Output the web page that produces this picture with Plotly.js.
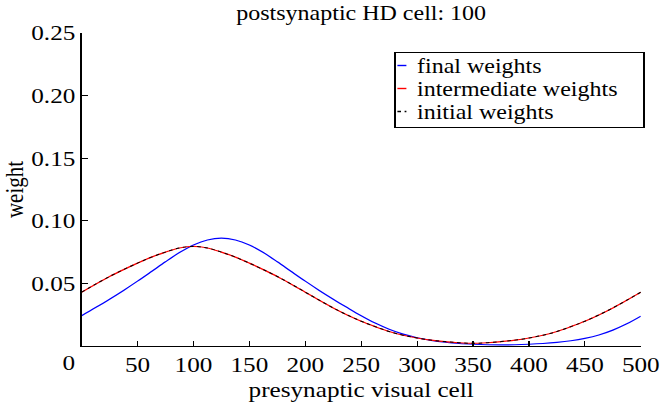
<!DOCTYPE html>
<html>
<head>
<meta charset="utf-8">
<script src="https://cdn.plot.ly/plotly-3.0.1.min.js"></script>
<style>
  html, body { margin: 0; padding: 0; width: 660px; height: 403px; overflow: hidden; background: #fff; }
  #plot { width: 550px; height: 403px; transform: scaleX(1.2); transform-origin: 0 0; }
</style>
</head>
<body>
<div id="plot"></div>
<script>
// presynaptic visual cell index
const cells = [0, 12.5, 25, 37.5, 50, 62.5, 75, 87.5, 100, 112.5, 125, 137.5, 150, 162.5, 175, 187.5, 200,
               212.5, 225, 237.5, 250, 262.5, 275, 287.5, 300, 312.5, 325, 337.5, 350, 362.5, 375, 387.5, 400,
               412.5, 425, 437.5, 450, 462.5, 475, 487.5, 500];

// weights
const finalWeights = [0.0242, 0.0307, 0.0374, 0.0444, 0.0518, 0.0595, 0.0673, 0.0746, 0.0807, 0.0847, 0.0861,
                      0.0847, 0.0807, 0.0746, 0.0673, 0.0595, 0.0518, 0.0444, 0.0374, 0.0307, 0.0242,
                      0.0183, 0.0134, 0.0095, 0.0066, 0.0045, 0.0030, 0.0020, 0.0014, 0.0010, 0.0009,
                      0.0010, 0.0014, 0.0020, 0.0029, 0.0042, 0.0061, 0.0088, 0.0127, 0.0177, 0.0238];
const intermediateWeights = [0.0430, 0.0494, 0.0555, 0.0610, 0.0662, 0.0710, 0.0750, 0.0783, 0.0795, 0.0783, 0.0750,
                             0.0710, 0.0662, 0.0610, 0.0555, 0.0494, 0.0430, 0.0366, 0.0304, 0.0248, 0.0198,
                             0.0155, 0.0116, 0.0086, 0.0064, 0.0047, 0.0035, 0.0026, 0.0022, 0.0026, 0.0035,
                             0.0047, 0.0064, 0.0086, 0.0116, 0.0155, 0.0198, 0.0248, 0.0304, 0.0366, 0.0430];
const initialWeights = [0.0430, 0.0494, 0.0555, 0.0610, 0.0662, 0.0710, 0.0750, 0.0783, 0.0795, 0.0783, 0.0750,
                        0.0710, 0.0662, 0.0610, 0.0555, 0.0494, 0.0430, 0.0366, 0.0304, 0.0248, 0.0198,
                        0.0155, 0.0116, 0.0086, 0.0064, 0.0047, 0.0035, 0.0026, 0.0022, 0.0026, 0.0035,
                        0.0047, 0.0064, 0.0086, 0.0116, 0.0155, 0.0198, 0.0248, 0.0304, 0.0366, 0.0430];

const xTicks = [50, 100, 150, 200, 250, 300, 350, 400, 450, 500];
const yTicks = [0.05, 0.10, 0.15, 0.20, 0.25];
const yTickLabels = ['0.05', '0.10', '0.15', '0.20', '0.25'];

const titleText = 'postsynaptic HD cell: 100';
const xTitle = 'presynaptic visual cell';
const yTitle = 'weight';
const seriesNames = ['final weights', 'intermediate weights', 'initial weights'];

const FONT = 'Liberation Serif, Times New Roman, serif';
const SX = 1.2; // horizontal stretch of the original figure

const traces = [
  { x: cells, y: finalWeights, name: seriesNames[0], type: 'scatter', mode: 'lines',
    line: { color: '#0000ff', width: 1.2, shape: 'spline', smoothing: 1 } },
  { x: cells, y: intermediateWeights, name: seriesNames[1], type: 'scatter', mode: 'lines',
    line: { color: '#ff0000', width: 1.2, shape: 'spline', smoothing: 1 } },
  { x: cells, y: initialWeights, name: seriesNames[2], type: 'scatter', mode: 'lines',
    line: { color: '#000000', width: 1, dash: 'dot', shape: 'spline', smoothing: 1 } }
];

const layout = {
  width: 550, height: 403,
  margin: { l: 67.5, r: 15.8, t: 33, b: 57, pad: 0, autoexpand: false },
  paper_bgcolor: '#ffffff', plot_bgcolor: '#ffffff',
  font: { family: FONT, color: '#000000', size: 21 },
  title: { text: titleText, font: { family: FONT, size: 20, color: '#000' },
           x: 0.5, xref: 'paper', xanchor: 'center', y: 0.968, yref: 'container', yanchor: 'middle' },
  xaxis: {
    range: [0, 500], tickvals: xTicks, ticks: 'inside', ticklen: 5, tickwidth: 1, tickcolor: '#000',
    showline: true, linecolor: '#000', linewidth: 1, showgrid: false, zeroline: false,
    tickfont: { family: FONT, size: 21 },
    title: { text: xTitle, font: { family: FONT, size: 21 }, standoff: 6 }
  },
  yaxis: {
    range: [0, 0.25], tickvals: yTicks, ticktext: yTickLabels, ticks: 'inside', ticklen: 5, tickwidth: 1, tickcolor: '#000',
    showline: true, linecolor: '#000', linewidth: 1, showgrid: false, zeroline: false,
    tickfont: { family: FONT, size: 21 },
    title: { text: yTitle, font: { family: FONT, size: 21 }, standoff: 6 }
  },
  legend: {
    x: 1.0, xanchor: 'right', y: 0.94, yanchor: 'top',
    bgcolor: '#ffffff', bordercolor: '#000', borderwidth: 1,
    font: { family: FONT, size: 20, color: '#000' },
    tracegroupgap: 0, itemwidth: 30
  },
  annotations: [
    { text: '0', x: 0, y: 0, xref: 'x', yref: 'y', showarrow: false,
      xshift: -11, yshift: -17, font: { family: FONT, size: 21, color: '#000' } }
  ],
  showlegend: true
};

const gd = document.getElementById('plot');
Plotly.newPlot(gd, traces, layout, { displayModeBar: false, staticPlot: true }).then(function () {
  // compact MATLAB-style legend: short line samples, tight rows
  const legend = gd.querySelector('g.legend');
  if (!legend) return;
  legend.setAttribute('transform', 'translate(' + (395 / SX) + ',52)');
  const scroll = legend.querySelector('g.scrollbox');
  if (scroll) { scroll.removeAttribute('clip-path'); scroll.setAttribute('transform', 'translate(0,0)'); }
  const bg = legend.querySelector('rect.bg');
  if (bg) {
    bg.setAttribute('x', '0'); bg.setAttribute('y', '0');
    bg.setAttribute('width', String(249 / SX)); bg.setAttribute('height', '75');
  }
  legend.querySelectorAll('g.traces').forEach(function (t, i) {
    t.setAttribute('transform', 'translate(0,' + (13.5 + 23 * i) + ')');
    t.querySelectorAll('.legendlines path').forEach(function (p) {
      p.setAttribute('d', 'M2,0h7.5');
      p.style.strokeWidth = '1.4px';
    });
    const txt = t.querySelector('text.legendtext');
    if (txt) txt.setAttribute('x', String(22 / SX));
  });
});
</script>
</body>
</html>
